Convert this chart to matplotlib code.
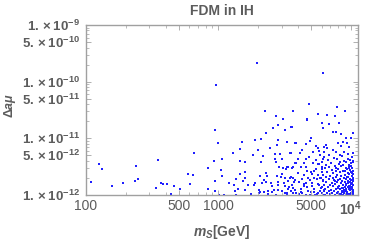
import numpy as np
import matplotlib
matplotlib.use("Agg")
import matplotlib.pyplot as plt
from matplotlib.ticker import FixedLocator, FixedFormatter, NullFormatter

plt.rcParams["font.family"] = ["Liberation Sans", "DejaVu Sans"]
plt.rcParams["mathtext.fontset"] = "custom"
plt.rcParams["mathtext.rm"] = "Liberation Sans:bold"
plt.rcParams["mathtext.it"] = "Liberation Sans:bold:italic"
plt.rcParams["mathtext.bf"] = "Liberation Sans:bold"

# scattered points: m_S [GeV], delta a_mu in units of 1e-12
m_sparse = [109, 125, 131, 156, 190, 235, 240, 249, 335, 349, 368, 383, 411, 438,
            459, 509, 593, 607, 643, 654,
            966, 1963, 6110, 4786, 2265, 3681, 7834, 8950, 5597, 2716, 3055, 4699,
            6648, 7600,
            2832, 3555, 2577, 944, 3199, 2297, 2800, 1875, 2103, 988, 1493, 3289,
            3784, 2432, 2767, 1459, 1291, 2000, 3508, 1820, 2168, 2685, 2897, 1067,
            3019, 2685, 933, 1459, 1582, 2089, 2716, 3784, 835, 2885, 3093, 3350,
            3637, 1040, 3221, 1592, 1449, 2270, 3040, 1072, 2070, 2323, 2748, 2965,
            1592, 3199, 3467, 3653, 1346, 1520, 2204, 944, 1205, 1875, 2118, 2281,
            2489, 2813, 3126, 3334, 3716, 1315, 1667, 1849, 2535, 2813, 3199, 3615,
            830, 1410, 1582, 2018, 2384, 2612, 2832, 3040, 3373, 948, 1340, 2054,
            2204, 2522, 3162, 3532, 3767, 1005, 1096, 1346, 1770, 2009, 2350, 2716,
            3311, 3653]
da_sparse = [1.67, 3.47, 2.88, 1.44, 1.65, 1.79, 3.29, 1.91, 1.35, 4.2, 1.65, 1.56,
             1.55, 1.03, 1.44, 1.28, 2.32, 1.56, 2.22, 5.57,
             87, 215, 140, 39.8, 30, 30, 35.6, 30, 26.5, 25, 21.9, 21.9, 25.5, 24.7,
             17.2, 16.0, 15.0, 14.0, 14.0, 12.6, 9.3, 9.3, 9.8, 8.3, 8.6, 8.5, 8.2,
             6.8, 7.6, 6.5, 5.4, 6.2, 5.4, 5.1, 4.9, 5.3, 5.3, 4.4, 4.4, 4.4, 4.0,
             4.0, 3.9, 3.9, 3.8, 3.6, 3.0, 3.15, 2.96, 3.15, 3.12, 2.76, 2.87, 2.51,
             2.32, 2.41, 2.32, 2.16, 2.16, 2.16, 2.16, 2.10, 2.02, 2.0, 2.0, 2.0,
             1.89, 1.77, 1.84, 1.77, 1.63, 1.65, 1.65, 1.72, 1.65, 1.69, 1.65, 1.74,
             1.72, 1.50, 1.48, 1.50, 1.42, 1.50, 1.46, 1.52, 1.26, 1.26, 1.22, 1.22,
             1.18, 1.21, 1.22, 1.18, 1.26, 1.19, 1.16, 1.12, 1.14, 1.14, 1.08, 1.18,
             1.22, 1.01, 1.0, 1.0, 1.04, 1.07, 1.04, 1.0, 1.01, 1.1]

m_mid = [3573, 4699, 5998, 6110, 5035, 4887, 4560, 3311, 3828, 5432, 5653, 6209,
         4305, 4131, 3491, 5129, 5754, 5852, 4831, 3990, 4560, 5432, 6166, 3828,
         5129, 5754, 4178, 4560, 6026, 3273, 3615, 5432, 4977, 6026, 4018, 4426,
         5597, 3508, 4775, 5272, 5929, 3784, 4055, 6110, 5070, 4426, 5597, 3412,
         3653, 4178, 4699, 5272, 5929, 6281, 4305, 4977, 5597, 3828, 6026, 4600,
         5370, 6281, 3311,
         6026, 6839, 8147, 7261, 7709, 8413, 10300, 10000, 9183, 8650, 9333, 7925,
         8413, 9700, 6471, 6652, 7261, 6209, 7709, 8892, 10300, 8300, 9437, 6839]
da_mid = [16.0, 21.0, 18.8, 15.0, 10.0, 9.1, 7.8, 8.5, 8.2, 7.3, 6.8, 7.1, 6.2,
          5.4, 5.4, 5.8, 6.0, 5.1, 4.7, 4.4, 4.3, 4.1, 4.3, 3.6, 3.6, 3.5, 3.15,
          3.1, 3.15, 3.15, 2.96, 2.85, 2.58, 2.58, 2.41, 2.25, 2.25, 2.10, 1.97,
          1.97, 1.97, 1.84, 1.72, 1.77, 1.65, 1.56, 1.56, 1.40, 1.31, 1.26, 1.37,
          1.26, 1.31, 1.22, 1.10, 1.14, 1.07, 1.07, 1.07, 1.0, 1.0, 1.0, 1.07,
          18.4, 17.9, 18.8, 13.1, 12.8, 11.9, 12.2, 10.0, 10.0, 8.7, 8.2, 8.2, 7.3,
          7.1, 7.6, 6.7, 6.2, 5.8, 5.8, 5.8, 5.6, 5.1, 5.3, 5.1]

# dense corner near 10^4 GeV (estimated, too crowded to read one by one)
m_dense = [6250, 7420, 8630, 9480, 10210, 6720, 7880, 8940, 9790, 10320,
           6090, 7130, 8270, 9230, 9930, 10360, 6510, 7580, 8140, 8790,
           9620, 10080, 6330, 6880, 7720, 8480, 9130, 9680, 10260, 6040,
           7230, 7970, 8720, 9380, 9910, 10310, 6620, 7330, 8230, 8880,
           9520, 10060, 10390, 6180, 7010, 7790, 8470, 9020, 9660, 10140,
           6430, 7270, 7680, 8320, 8830, 9290, 9820, 10290, 6160, 6790,
           7520, 8020, 8580, 9170, 9540, 9960, 10350, 6540, 7160, 7840,
           8410, 8970, 9440, 9870, 10190, 6290, 6960, 7610, 8170, 8740,
           9260, 9720, 10110, 10380, 6070, 6690, 7310, 8010, 8560, 9070,
           9490, 9890, 10240, 6410, 7060, 7690, 8260, 8810, 9210, 9610,
           10010, 10340, 6210, 6840, 7460, 7940, 8510, 9010, 9410, 9810,
           10160, 6590, 7190, 7810, 8360, 8910, 9360, 9760, 10090, 10370,
           6360, 6990, 7560, 8090, 8660, 9110, 9560, 9940, 10310, 8850,
           9250, 9650, 10050, 10330, 9050, 9450, 9850, 10250, 8700, 9150,
           9550, 9950, 10350, 9300, 9700, 10150, 7400, 8050, 8600, 7750,
           4300, 4900, 5500, 4450, 5100, 5700, 4200, 4750, 5300, 5800,
           4400, 5600, 4650, 5250, 4050, 4900, 5500, 5050, 5850, 4550]
da_dense = [4.7, 4.5, 4.8, 4.4, 4.6, 4.1, 4.3, 3.95, 4.2, 4.05,
            3.85, 3.7, 3.9, 3.75, 3.6, 3.8, 3.45, 3.3, 3.5, 3.35,
            3.4, 3.25, 3.05, 3.15, 3.0, 3.2, 2.95, 3.1, 3.05, 2.85,
            2.75, 2.9, 2.7, 2.85, 2.8, 2.65, 2.5, 2.45, 2.55, 2.6,
            2.4, 2.52, 2.35, 2.28, 2.2, 2.3, 2.15, 2.25, 2.32, 2.18,
            2.05, 1.98, 2.1, 1.95, 2.02, 2.08, 1.92, 2.0, 1.82, 1.88,
            1.78, 1.85, 1.76, 1.9, 1.8, 1.84, 1.74, 1.68, 1.62, 1.7,
            1.64, 1.72, 1.6, 1.67, 1.63, 1.52, 1.48, 1.55, 1.46, 1.53,
            1.5, 1.45, 1.54, 1.49, 1.4, 1.36, 1.42, 1.38, 1.34, 1.41,
            1.37, 1.33, 1.39, 1.28, 1.25, 1.3, 1.27, 1.24, 1.29, 1.26,
            1.31, 1.23, 1.18, 1.16, 1.2, 1.15, 1.19, 1.17, 1.14, 1.21,
            1.13, 1.09, 1.07, 1.1, 1.06, 1.08, 1.11, 1.05, 1.09, 1.07,
            1.02, 1.03, 1.01, 1.04, 1.02, 1.0, 1.03, 1.01, 1.02, 1.12,
            1.22, 1.35, 1.58, 1.95, 2.6, 1.72, 1.44, 1.28, 1.33, 1.55,
            2.1, 1.26, 1.16, 1.04, 3.0, 2.45, 1.86, 1.32, 1.12, 2.62,
            1.9, 1.86, 1.94, 1.45, 1.42, 1.48, 1.15, 1.17, 1.12, 1.16,
            3.6, 3.55, 2.7, 2.65, 1.03, 1.02, 1.04, 2.35, 2.0, 1.6]

y_major = [1e-12, 5e-12, 1e-11, 5e-11, 1e-10, 5e-10, 1e-9]
y_labels = [r"$1.\times10^{-12}$", r"$5.\times10^{-12}$", r"$1.\times10^{-11}$",
            r"$5.\times10^{-11}$", r"$1.\times10^{-10}$", r"$5.\times10^{-10}$",
            r"$1.\times10^{-9}$"]
x_major = [100, 500, 1000, 5000, 10000]
x_labels = ["100", "500", "1000", "5000", r"$10^{4}$"]

m_all = np.array(m_sparse + m_mid + m_dense, dtype=float)
da_all = np.array(da_sparse + da_mid + da_dense) * 1e-12

gray = "#5c5c5c"
fig = plt.figure(figsize=(3.66, 2.4), dpi=100)
ax = fig.add_axes([0.235, 0.1875, 0.743, 0.7083])
ax.scatter(m_all, da_all, s=3.2, marker="s", color="#1f1fff", linewidths=0)
ax.set_xscale("log")
ax.set_yscale("log")
ax.set_xlim(100, 11300)
ax.set_ylim(1e-12, 1e-9)

ax.yaxis.set_major_locator(FixedLocator(y_major))
ax.yaxis.set_major_formatter(FixedFormatter(y_labels))
y_minor = [k * 10.0 ** e for e in range(-12, -9) for k in (2, 3, 4, 6, 7, 8, 9)]
ax.yaxis.set_minor_locator(FixedLocator(y_minor))
ax.yaxis.set_minor_formatter(NullFormatter())
ax.xaxis.set_major_locator(FixedLocator(x_major))
ax.xaxis.set_major_formatter(FixedFormatter(x_labels))
x_minor = [k * 10.0 ** e for e in range(2, 5) for k in (2, 3, 4, 6, 7, 8, 9)]
ax.xaxis.set_minor_locator(FixedLocator([v for v in x_minor if v < 11300]))
ax.xaxis.set_minor_formatter(NullFormatter())

ax.tick_params(which="both", direction="in", top=True, right=True, color="#b0b0b0")
ax.tick_params(which="major", length=3.5, width=0.7)
ax.tick_params(which="minor", length=2, width=0.6)
ax.tick_params(axis="x", labelsize=10, labelcolor=gray, pad=3)
ax.tick_params(axis="y", labelsize=9.5, labelcolor=gray, pad=4)
for sp in ax.spines.values():
    sp.set_color("#a0a0a0")
    sp.set_linewidth(1.0)

ax.set_title("FDM in IH", fontsize=10, fontweight="bold", color=gray, pad=7)
ax.set_xlabel(r"$m_S$[GeV]", fontsize=10, fontweight="bold", color=gray, labelpad=4)
ax.set_ylabel(r"$\Delta a\mu$", fontsize=9, color=gray)
ax.yaxis.set_label_coords(-0.25, 0.53)

fig.savefig("out.png", dpi=100)
